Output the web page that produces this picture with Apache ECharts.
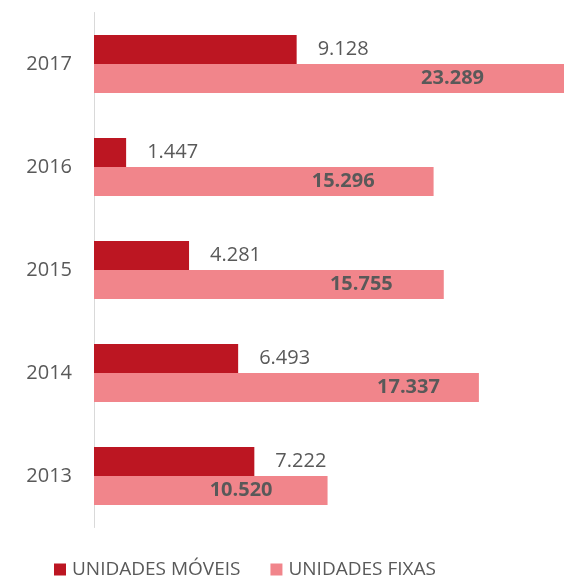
<!DOCTYPE html>
<html>
<head>
<meta charset="utf-8">
<script src="https://cdn.jsdelivr.net/npm/echarts@6/dist/echarts.min.js"></script>
<style>
  html, body { margin: 0; padding: 0; background: #fff; }
  #chart { width: 564px; height: 576px; }
</style>
</head>
<body>
<div id="chart"></div>
<script>
// Years on the category axis (bottom to top)
var years = ['2013', '2014', '2015', '2016', '2017'];
// Mobile units per year
var unidadesMoveis = [7222, 6493, 4281, 1447, 9128];
// Fixed units per year
var unidadesFixas = [10520, 17337, 15755, 15296, 23289];

// Gap between the end of each fixed-units bar and its bold label
var fixasLabelInset = [55, 39, 51, 59, 80];

var TEXT = '#595959';
var FONT = 'Open Sans';

function fmt(v) {
  return String(v).replace(/\B(?=(\d{3})+(?!\d))/g, '.');
}

var chart = echarts.init(document.getElementById('chart'), null, { renderer: 'canvas' });

chart.setOption({
  animation: false,
  textStyle: { fontFamily: FONT },
  grid: { left: 94, right: 0, top: 12.5, height: 515, containLabel: false },
  xAxis: {
    type: 'value',
    min: 0,
    max: 21170,
    show: false,
    splitLine: { show: false }
  },
  yAxis: {
    type: 'category',
    data: years,
    axisLine: { show: true, lineStyle: { color: '#D9D9D9', width: 1 } },
    axisTick: { show: false },
    axisLabel: { color: TEXT, fontSize: 20, fontFamily: FONT, margin: 22 }
  },
  legend: {
    data: ['UNIDADES MÓVEIS', 'UNIDADES FIXAS'],
    left: 49,
    top: 555,
    itemWidth: 12,
    itemHeight: 12,
    itemGap: 30,
    icon: 'rect',
    textStyle: { color: TEXT, fontSize: 19, fontFamily: FONT, padding: [0, 0, 0, 1] }
  },
  series: [
    {
      name: 'UNIDADES MÓVEIS',
      type: 'bar',
      barWidth: 29,
      barGap: '0%',
      itemStyle: { color: '#BC1622' },
      data: unidadesMoveis,
      label: {
        show: true,
        position: 'right',
        distance: 21,
        color: TEXT,
        fontSize: 20,
        fontFamily: FONT,
        formatter: function (p) { return fmt(p.value); }
      }
    },
    {
      name: 'UNIDADES FIXAS',
      type: 'bar',
      barWidth: 29,
      barGap: '0%',
      clip: true,
      itemStyle: { color: '#F1858B' },
      data: unidadesFixas.map(function (v, i) {
        return {
          value: v,
          label: { distance: fixasLabelInset[i] }
        };
      }),
      label: {
        show: true,
        position: 'insideRight',
        color: TEXT,
        fontSize: 20,
        fontWeight: 'bold',
        fontFamily: FONT,
        formatter: function (p) { return fmt(p.value); }
      }
    }
  ]
});
</script>
</body>
</html>
